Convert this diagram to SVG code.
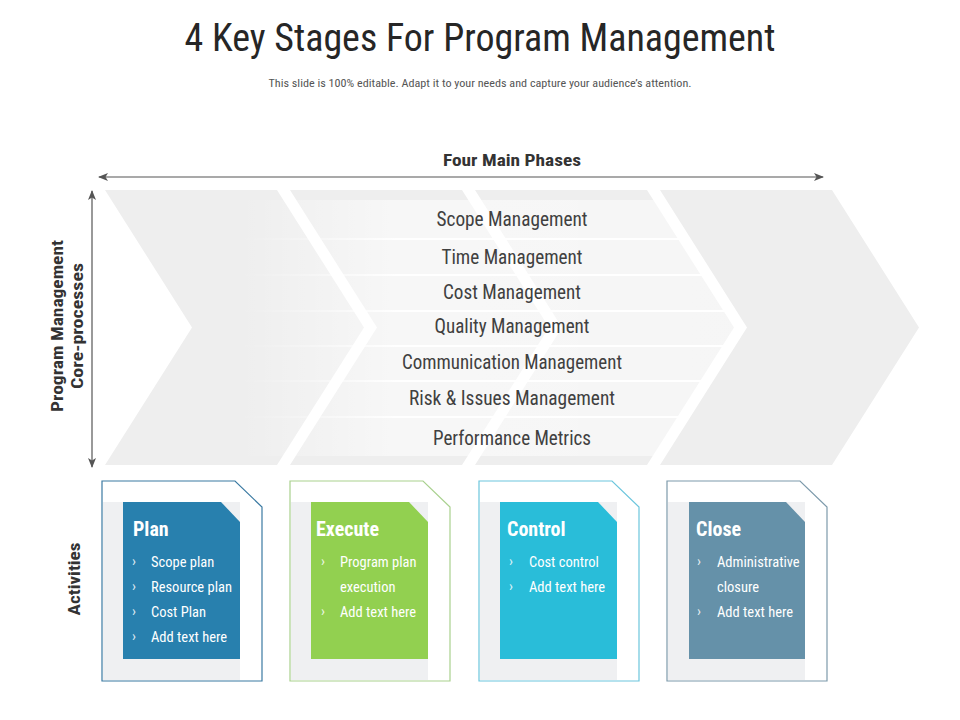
<svg xmlns="http://www.w3.org/2000/svg" width="960" height="720" viewBox="0 0 960 720">
<defs>
<style>
text{font-family:"Liberation Sans Narrow","Roboto Condensed","Liberation Sans",Arial,sans-serif;}
.title{font-size:38px;fill:#262626;}
.sub{font-size:11px;fill:#555;}
.hdr{font-size:17px;font-weight:bold;fill:#333;}
.band{font-size:19.5px;fill:#404040;text-anchor:middle;}
.chev{fill:#eeeeee;}
.ct{font-size:20px;font-weight:bold;fill:#fff;}
.cb{font-size:14.5px;fill:#fff;}
.bul{font-size:14.5px;fill:#fff;opacity:0.85;}
.gray{fill:#eff0f2;}
.outer{fill:#fff;stroke-width:1.2;}
.arr{stroke:#555;stroke-width:1.2;fill:none;}
</style>
<marker id="ah" viewBox="0 0 10 8" refX="9" refY="4" markerWidth="10" markerHeight="8" markerUnits="userSpaceOnUse" orient="auto-start-reverse">
<path d="M0,0 L10,4 L0,8 L2.5,4 z" fill="#555"/>
</marker>
<linearGradient id="bandg" gradientUnits="userSpaceOnUse" x1="240" y1="0" x2="760" y2="0">
<stop offset="0" stop-color="#fff" stop-opacity="0"/>
<stop offset="0.3" stop-color="#fff" stop-opacity="0.55"/>
<stop offset="1" stop-color="#fff" stop-opacity="0.45"/>
</linearGradient>
<linearGradient id="sepg" gradientUnits="userSpaceOnUse" x1="240" y1="0" x2="760" y2="0">
<stop offset="0" stop-color="#fff" stop-opacity="0"/>
<stop offset="0.3" stop-color="#fff" stop-opacity="1"/>
<stop offset="1" stop-color="#fff" stop-opacity="1"/>
</linearGradient>
<clipPath id="bclip"><polygon points="100,190 650,190 737,327.5 650,465 100,465"/></clipPath>
</defs>
<rect width="960" height="720" fill="#fff"/>

<g id="header">
<text class="title" x="480" y="51" text-anchor="middle" textLength="591" lengthAdjust="spacingAndGlyphs">4 Key Stages For Program Management</text>
<text class="sub" x="480" y="87" text-anchor="middle" textLength="423" lengthAdjust="spacingAndGlyphs">This slide is 100% editable. Adapt it to your needs and capture your audience’s attention.</text>
</g>

<g id="phases">
<polygon class="chev" points="105,190 277,190 364,327.5 277,465 105,465 192,327.5"/>
<polygon class="chev" points="290,190 462,190 549,327.5 462,465 290,465 377,327.5"/>
<polygon class="chev" points="475,190 647,190 734,327.5 647,465 475,465 562,327.5"/>
<polygon class="chev" points="660,190 832,190 919,327.5 832,465 660,465 747,327.5"/>
</g>

<g id="bands" clip-path="url(#bclip)">
<rect x="240" y="200" width="520" height="38" fill="url(#bandg)"/>
<rect x="240" y="240" width="520" height="34" fill="url(#bandg)"/>
<rect x="240" y="276" width="520" height="34" fill="url(#bandg)"/>
<rect x="240" y="312" width="520" height="33" fill="url(#bandg)"/>
<rect x="240" y="347" width="520" height="33" fill="url(#bandg)"/>
<rect x="240" y="382" width="520" height="34" fill="url(#bandg)"/>
<rect x="240" y="418" width="520" height="38" fill="url(#bandg)"/>
<g fill="url(#sepg)">
<rect x="240" y="238" width="520" height="2"/>
<rect x="240" y="274" width="520" height="2"/>
<rect x="240" y="310" width="520" height="2"/>
<rect x="240" y="345" width="520" height="2"/>
<rect x="240" y="380" width="520" height="2"/>
<rect x="240" y="416" width="520" height="2"/>
</g>
</g>

<g id="processes">
<text class="band" x="512" y="226" textLength="151" lengthAdjust="spacingAndGlyphs">Scope Management</text>
<text class="band" x="512" y="264" textLength="141" lengthAdjust="spacingAndGlyphs">Time Management</text>
<text class="band" x="512" y="299" textLength="138" lengthAdjust="spacingAndGlyphs">Cost Management</text>
<text class="band" x="512" y="333" textLength="155" lengthAdjust="spacingAndGlyphs">Quality Management</text>
<text class="band" x="512" y="369" textLength="220" lengthAdjust="spacingAndGlyphs">Communication Management</text>
<text class="band" x="512" y="405" textLength="206" lengthAdjust="spacingAndGlyphs">Risk &amp; Issues Management</text>
<text class="band" x="512" y="445" textLength="158" lengthAdjust="spacingAndGlyphs">Performance Metrics</text>
</g>

<g id="connectors">
<line class="arr" x1="99" y1="177" x2="823" y2="177" marker-start="url(#ah)" marker-end="url(#ah)"/>
<line class="arr" x1="92" y1="191" x2="92" y2="467" marker-start="url(#ah)" marker-end="url(#ah)"/>
</g>

<g id="axis-labels">
<text class="hdr" x="512" y="166" text-anchor="middle" textLength="138" lengthAdjust="spacingAndGlyphs">Four Main Phases</text>
<text class="hdr" transform="translate(63,326) rotate(-90)" text-anchor="middle" textLength="172" lengthAdjust="spacingAndGlyphs">Program Management</text>
<text class="hdr" transform="translate(83,326) rotate(-90)" text-anchor="middle" textLength="126" lengthAdjust="spacingAndGlyphs">Core-processes</text>
<text class="hdr" transform="translate(80,579) rotate(-90)" text-anchor="middle" textLength="73" lengthAdjust="spacingAndGlyphs">Activities</text>
</g>

<g id="card-plan">
<polygon class="outer" points="102,481 235,481 262,507 262,681 102,681" stroke="#3b7aa2"/>
<rect class="gray" x="103" y="502" width="137" height="178"/>
<polygon points="123,502 221,502 240,522 240,659 123,659" fill="#2880ae"/>
<text class="ct" x="133" y="536">Plan</text>
<text class="bul" x="132" y="566">›</text><text class="cb" x="151" y="567">Scope plan</text>
<text class="bul" x="132" y="591">›</text><text class="cb" x="151" y="592">Resource plan</text>
<text class="bul" x="132" y="616">›</text><text class="cb" x="151" y="617">Cost Plan</text>
<text class="bul" x="132" y="641">›</text><text class="cb" x="151" y="642">Add text here</text>
</g>

<g id="card-execute">
<polygon class="outer" points="290,481 423,481 450,507 450,681 290,681" stroke="#a9d18e"/>
<rect class="gray" x="291" y="502" width="137" height="178"/>
<polygon points="311,502 409,502 428,522 428,659 311,659" fill="#92d050"/>
<text class="ct" x="316" y="536">Execute</text>
<text class="bul" x="321" y="566">›</text><text class="cb" x="340" y="567">Program plan</text>
<text class="cb" x="340" y="592">execution</text>
<text class="bul" x="321" y="616">›</text><text class="cb" x="340" y="617">Add text here</text>
</g>

<g id="card-control">
<polygon class="outer" points="479,481 612,481 639,507 639,681 479,681" stroke="#6cc6dd"/>
<rect class="gray" x="480" y="502" width="137" height="178"/>
<polygon points="500,502 598,502 617,522 617,659 500,659" fill="#29bdd9"/>
<text class="ct" x="507" y="536">Control</text>
<text class="bul" x="509" y="566">›</text><text class="cb" x="529" y="567">Cost control</text>
<text class="bul" x="509" y="591">›</text><text class="cb" x="529" y="592">Add text here</text>
</g>

<g id="card-close">
<polygon class="outer" points="667,481 800,481 827,507 827,681 667,681" stroke="#7d9aab"/>
<rect class="gray" x="668" y="502" width="137" height="178"/>
<polygon points="689,502 786,502 805,522 805,659 689,659" fill="#6591a9"/>
<text class="ct" x="696" y="536">Close</text>
<text class="bul" x="697" y="566">›</text><text class="cb" x="717" y="567">Administrative</text>
<text class="cb" x="717" y="592">closure</text>
<text class="bul" x="697" y="616">›</text><text class="cb" x="717" y="617">Add text here</text>
</g>
</svg>
